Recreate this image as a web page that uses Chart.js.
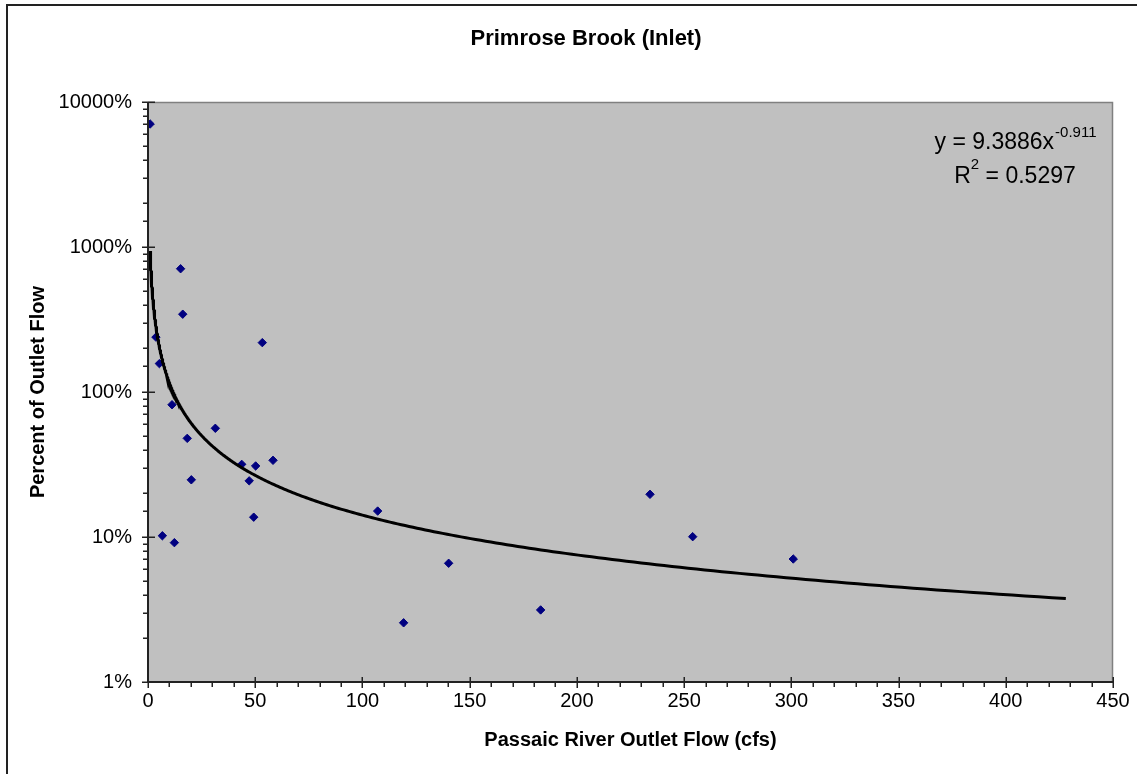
<!DOCTYPE html>
<html>
<head>
<meta charset="utf-8">
<script src="https://cdn.jsdelivr.net/npm/chart.js@4/dist/chart.umd.min.js"></script>
<style>
html,body{margin:0;padding:0;background:#fff;}
canvas{display:block;}
</style>
</head>
<body>
<canvas id="c" width="1137" height="774"></canvas>
<script>
// ---- data ----
const chartTitle = "Primrose Brook (Inlet)";
const xAxisTitle = "Passaic River Outlet Flow (cfs)";
const yAxisTitle = "Percent of Outlet Flow";
// Passaic River outlet flow (cfs)
const outletFlow = [1, 15.2, 16.2, 53.3, 3.7, 5.3, 11.2, 31.4, 18.3, 20.2, 43.7, 50.2, 58.3, 47.2, 49.3, 6.7, 12.3, 107.1, 119.2, 140.2, 183.1, 234.1, 254.0, 300.9];
// Inlet flow as a fraction of outlet flow (1 = 100%)
const pctOfOutlet = [70.5, 7.08, 3.44, 2.19, 2.39, 1.57, 0.817, 0.562, 0.479, 0.248, 0.317, 0.309, 0.338, 0.244, 0.137, 0.102, 0.0914, 0.151, 0.0256, 0.0659, 0.0314, 0.197, 0.1005, 0.0705];
// power trendline shown on the chart: y = a * x^b
const trendCoef = 9.3886;
const trendExp = -0.911;
const trendR2 = "0.5297";
const trendXRange = [1, 428];
// axes
const xRange = [0, 450];
const xMajorStep = 50;
const xMinorStep = 10;
const yRange = [0.01, 100];

// trendline samples from the displayed equation
const trendSamples = 400;
const trendPoints = [];
for (let i = 0; i <= trendSamples; i++) {
  const x = trendXRange[0] * Math.pow(trendXRange[1] / trendXRange[0], i / trendSamples);
  trendPoints.push({x: x, y: trendCoef * Math.pow(x, trendExp)});
}
const scatterPoints = outletFlow.map((x, i) => ({x: x, y: pctOfOutlet[i]}));

const FONT = "'Liberation Sans', Arial, Helvetica, sans-serif";
const isDecade = v => Math.abs(Math.log10(v) - Math.round(Math.log10(v))) < 1e-6;

const decor = {
  id: 'decor',
  beforeDraw(chart) {
    const {ctx, chartArea: a} = chart;
    ctx.save();
    ctx.fillStyle = '#ffffff';
    ctx.fillRect(0, 0, chart.width, chart.height);
    // outer frame (top and left visible)
    ctx.strokeStyle = '#222';
    ctx.lineWidth = 2;
    ctx.beginPath();
    ctx.moveTo(7, chart.height);
    ctx.lineTo(7, 5);
    ctx.lineTo(chart.width, 5);
    ctx.stroke();
    // chart title
    ctx.fillStyle = '#000';
    ctx.font = "bold 22px " + FONT;
    ctx.textAlign = 'center';
    ctx.textBaseline = 'middle';
    ctx.fillText(chartTitle, 586, 39);
    // plot area
    ctx.fillStyle = '#C0C0C0';
    ctx.fillRect(a.left, a.top, a.right - a.left, a.bottom - a.top);
    ctx.strokeStyle = '#808080';
    ctx.lineWidth = 1.5;
    ctx.beginPath();
    ctx.moveTo(a.left, a.top + 0.5);
    ctx.lineTo(a.right - 0.5, a.top + 0.5);
    ctx.lineTo(a.right - 0.5, a.bottom);
    ctx.stroke();
    ctx.restore();
  },
  afterDatasetsDraw(chart) {
    const {ctx, chartArea: a, scales} = chart;
    ctx.save();
    // axis lines
    ctx.strokeStyle = '#222';
    ctx.lineWidth = 2;
    ctx.beginPath();
    ctx.moveTo(a.left, a.top);
    ctx.lineTo(a.left, a.bottom);
    ctx.lineTo(a.right, a.bottom);
    ctx.stroke();
    // tick marks
    ctx.lineWidth = 1.5;
    ctx.beginPath();
    scales.y.ticks.forEach(t => {
      const py = Math.round(scales.y.getPixelForValue(t.value)) + 0.25;
      if (isDecade(t.value)) { ctx.moveTo(a.left - 6, py); ctx.lineTo(a.left + 7, py); }
      else { ctx.moveTo(a.left - 5, py); ctx.lineTo(a.left, py); }
    });
    scales.x.ticks.forEach(t => {
      const px = Math.round(scales.x.getPixelForValue(t.value)) + 0.25;
      if (t.value % xMajorStep === 0) { ctx.moveTo(px, a.bottom - 5); ctx.lineTo(px, a.bottom + 6); }
      else { ctx.moveTo(px, a.bottom); ctx.lineTo(px, a.bottom + 5); }
    });
    ctx.stroke();
    // trendline equation label
    ctx.fillStyle = '#000';
    ctx.textBaseline = 'alphabetic';
    ctx.textAlign = 'left';
    const cx = a.right - 98;
    const big = "23px " + FONT, small = "15px " + FONT;
    // line 1
    ctx.font = big; const m1 = "y = " + trendCoef + "x"; const w1 = ctx.measureText(m1).width;
    ctx.font = small; const s1 = String(trendExp); const w1s = ctx.measureText(s1).width;
    let x0 = cx - (w1 + w1s) / 2; const b1 = a.top + 47;
    ctx.font = big; ctx.fillText(m1, x0, b1);
    ctx.font = small; ctx.fillText(s1, x0 + w1 + 1, b1 - 12);
    // line 2
    ctx.font = big; const r = "R"; const wr = ctx.measureText(r).width;
    const rest = " = " + trendR2; const wrest = ctx.measureText(rest).width;
    ctx.font = small; const w2s = ctx.measureText("2").width;
    x0 = cx - (wr + w2s + wrest) / 2; const b2 = a.top + 81;
    ctx.font = big; ctx.fillText(r, x0, b2); ctx.fillText(rest, x0 + wr + w2s, b2);
    ctx.font = small; ctx.fillText("2", x0 + wr, b2 - 14);
    ctx.restore();
  }
};

new Chart(document.getElementById('c'), {
  type: 'scatter',
  data: {
    datasets: [
      {
        label: 'Power trendline',
        data: trendPoints,
        showLine: true,
        borderColor: '#000',
        borderWidth: 3,
        pointRadius: 0,
        pointHoverRadius: 0,
        fill: false,
        tension: 0,
        order: 0
      },
      {
        label: 'Inlet / outlet flow',
        data: scatterPoints,
        pointStyle: 'rectRot',
        pointRadius: 4.2,
        pointHoverRadius: 4.2,
        backgroundColor: '#000080',
        borderColor: '#000080',
        borderWidth: 1,
        order: 1
      }
    ]
  },
  options: {
    responsive: false,
    animation: false,
    devicePixelRatio: 1,
    layout: {padding: {left: 0, right: 24, top: 102, bottom: 0}},
    plugins: {
      legend: {display: false},
      tooltip: {enabled: false},
      title: {display: false}
    },
    scales: {
      x: {
        type: 'linear',
        min: xRange[0],
        max: xRange[1],
        afterFit: s => { s.height = 92; },
        grid: {display: false, drawTicks: false},
        border: {display: false},
        ticks: {
          stepSize: xMinorStep,
          autoSkip: false,
          maxRotation: 0,
          padding: 7,
          color: '#000',
          font: {family: FONT, size: 20},
          callback: v => (v % xMajorStep === 0 ? String(v) : '')
        },
        title: {
          display: true,
          text: xAxisTitle,
          color: '#000',
          font: {family: FONT, size: 20, weight: 'bold'},
          padding: {top: 0, bottom: 22}
        }
      },
      y: {
        type: 'logarithmic',
        min: yRange[0],
        max: yRange[1],
        afterFit: s => { s.width = 148; },
        grid: {display: false, drawTicks: false},
        border: {display: false},
        ticks: {
          autoSkip: false,
          padding: 16,
          color: '#000',
          font: {family: FONT, size: 20},
          callback: v => (isDecade(v) ? String(Math.round(v * 100)) + '%' : '')
        },
        title: {
          display: true,
          text: yAxisTitle,
          color: '#000',
          font: {family: FONT, size: 20, weight: 'bold'},
          padding: {top: 26, bottom: 0}
        }
      }
    }
  },
  plugins: [decor]
});
</script>
</body>
</html>
